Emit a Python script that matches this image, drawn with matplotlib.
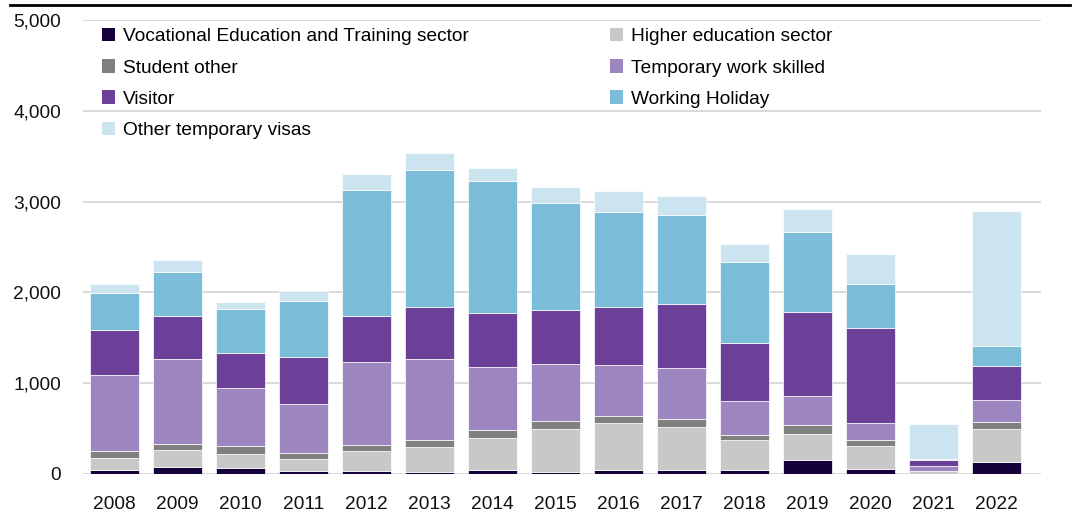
import matplotlib
matplotlib.use("Agg")
import matplotlib.pyplot as plt
from matplotlib.patches import Patch
from matplotlib.lines import Line2D
from matplotlib import font_manager
import numpy as np

# ---------------- data ----------------
years = [str(y) for y in range(2008, 2023)]
vet = [46, 72, 61, 28, 31, 20, 42, 24, 42, 42, 42, 149, 53, 3, 127]
higher_ed = [129, 188, 162, 136, 221, 273, 350, 471, 519, 472, 328, 295, 251, 25, 365]
student_other = [74, 66, 89, 66, 71, 85, 92, 88, 78, 88, 59, 95, 70, 5, 80]
temp_work = [839, 939, 636, 546, 912, 887, 693, 624, 560, 564, 375, 317, 184, 55, 240]
visitor = [498, 479, 387, 508, 509, 578, 596, 596, 644, 707, 641, 925, 1053, 71, 379]
working_holiday = [412, 486, 479, 626, 1381, 1500, 1459, 1186, 1039, 980, 889, 888, 483, 10, 221]
other_temp = [96, 130, 81, 107, 184, 195, 133, 177, 236, 213, 202, 246, 331, 386, 1481]

series = [
    ("Vocational Education and Training sector", vet, "#16003b"),
    ("Higher education sector", higher_ed, "#c8c8c8"),
    ("Student other", student_other, "#808080"),
    ("Temporary work skilled", temp_work, "#9d86bf"),
    ("Visitor", visitor, "#6c3f98"),
    ("Working Holiday", working_holiday, "#7bbcd8"),
    ("Other temporary visas", other_temp, "#cbe4f0"),
]

names = [f.name for f in font_manager.fontManager.ttflist]
fam = "Liberation Sans Narrow" if "Liberation Sans Narrow" in names else "Liberation Sans"
plt.rcParams["font.family"] = [fam, "DejaVu Sans"]
fs = 13.8

fig = plt.figure(figsize=(10.77, 5.18), dpi=100)
ax = fig.add_axes([83 / 1077, 1 - 474 / 518, (1041 - 83) / 1077, (474 - 20) / 518])

x = np.arange(len(years))
bottom = np.zeros(len(years))
handles = []
for label, vals, col in series:
    vals = np.array(vals, dtype=float)
    ax.bar(x, vals, 0.77, bottom=bottom, color=col, edgecolor="white", linewidth=0.5, zorder=3)
    bottom += vals
    handles.append(Patch(facecolor=col, edgecolor="none", label=label))

ax.set_xlim(-0.5, 14.71)
ax.set_ylim(0, 5000)
ax.set_yticks(range(0, 5001, 1000))
ax.set_yticklabels([f"{v:,}" for v in range(0, 5001, 1000)])
ax.set_xticks(x)
ax.set_xticklabels(years)
ax.tick_params(axis="both", length=0, labelsize=fs, colors="#111111")
ax.tick_params(axis="y", pad=16)
ax.tick_params(axis="x", pad=16)
ax.grid(axis="y", color="#d9d9d9", linewidth=1.4, zorder=0)
for s in ax.spines.values():
    s.set_visible(False)

leg_kw = dict(frameon=False, fontsize=fs, handlelength=0.7, handleheight=0.7,
              handletextpad=0.4, labelspacing=0.72, borderaxespad=0, borderpad=0)
leg1 = ax.legend(handles=[handles[0], handles[2], handles[4], handles[6]], loc="upper left",
                 bbox_to_anchor=(102 / 1077, 1 - 28 / 518), bbox_transform=fig.transFigure, **leg_kw)
ax.add_artist(leg1)
ax.legend(handles=[handles[1], handles[3], handles[5]], loc="upper left",
          bbox_to_anchor=(610 / 1077, 1 - 28 / 518), bbox_transform=fig.transFigure, **leg_kw)

fig.add_artist(Line2D([10 / 1077, 1070 / 1077], [1 - 5 / 518, 1 - 5 / 518], color="black",
                      linewidth=2, transform=fig.transFigure))

fig.savefig("out.png", dpi=100)
